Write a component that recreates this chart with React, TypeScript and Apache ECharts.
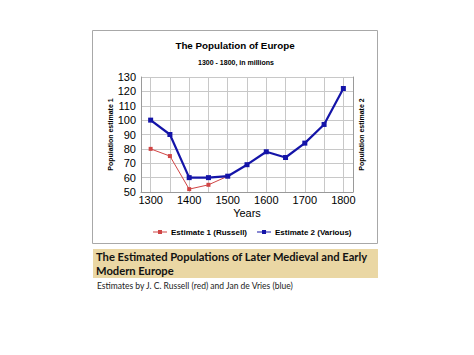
import React, { useEffect, useRef } from "react";
import * as echarts from "echarts";

// Axis slots (quarter-century steps so that gridlines fall on the data years)
const axisSlots = [
  "1275", "1300", "1325", "1350", "1375", "1400", "1425", "1450", "1475", "1500", "1525",
  "1550", "1575", "1600", "1625", "1650", "1675", "1700", "1725", "1750", "1775", "1800", "1825",
];
const gridYears = ["1275", "1300", "1350", "1400", "1450", "1500", "1550", "1600", "1650", "1700", "1750", "1800", "1825"];
const labelYears = ["1300", "1400", "1500", "1600", "1700", "1800"];

const russellYears = ["1300", "1350", "1400", "1450", "1500"];
const russellValues = [80, 75, 52, 55, 61];

const deVriesYears = ["1300", "1350", "1400", "1450", "1500", "1550", "1600", "1650", "1700", "1750", "1800"];
const deVriesValues = [100, 90, 60, 60, 61, 69, 78, 74, 84, 97, 122];

const yTicks = { min: 50, max: 130, interval: 10 };

const legendIcon = "path://M0,1.5H14V2.5H0Z M5,0H9V4H5Z";

export default function App() {
  const ref = useRef<HTMLDivElement>(null);
  useEffect(() => {
    if (!ref.current) return;
    const chart = echarts.init(ref.current, null, { renderer: "svg" });
    const font = "Arial, 'Liberation Sans', sans-serif";
    const bannerFont = "Lato, 'Open Sans', sans-serif";
    chart.setOption({
      animation: false,
      backgroundColor: "#ffffff",
      textStyle: { fontFamily: font },
      graphic: [
        {
          type: "rect",
          z: -10,
          shape: { x: 92.5, y: 30.5, width: 285, height: 213 },
          style: { fill: "#ffffff", stroke: "#a8a8a8", lineWidth: 1 },
        },
        {
          type: "text",
          x: 235,
          y: 45,
          style: {
            text: "The Population of Europe",
            font: `bold 9.8px ${font}`,
            fill: "#000",
            textAlign: "center",
            textVerticalAlign: "middle",
          },
        },
        {
          type: "text",
          x: 236,
          y: 62,
          style: {
            text: "1300 - 1800, in millions",
            font: `bold 7px ${font}`,
            fill: "#000",
            textAlign: "center",
            textVerticalAlign: "middle",
          },
        },
        {
          type: "rect",
          shape: { x: 93, y: 249, width: 285, height: 29 },
          style: { fill: "#ead7a4" },
        },
        {
          type: "text",
          x: 96,
          y: 256,
          style: {
            text: "The Estimated Populations of Later Medieval and Early",
            font: `bold 11.2px ${bannerFont}`,
            fill: "#111",
            textVerticalAlign: "middle",
          },
        },
        {
          type: "text",
          x: 96,
          y: 270,
          style: {
            text: "Modern Europe",
            font: `bold 11.2px ${bannerFont}`,
            fill: "#111",
            textVerticalAlign: "middle",
          },
        },
        {
          type: "text",
          x: 97,
          y: 286,
          style: {
            text: "Estimates by J. C. Russell (red) and Jan de Vries (blue)",
            font: `8.5px ${bannerFont}`,
            fill: "#222",
            textVerticalAlign: "middle",
          },
        },
      ],
      grid: { left: 141, top: 77, width: 212, height: 115, show: false },
      legend: {
        left: 153,
        top: 228,
        padding: 0,
        itemWidth: 14,
        itemHeight: 4,
        itemGap: 10,
        textStyle: { fontSize: 8, fontWeight: "bold", color: "#000", fontFamily: font, padding: [0, 0, 0, -1] },
        data: [
          { name: "Estimate 1 (Russell)", icon: legendIcon },
          { name: "Estimate 2 (Various)", icon: legendIcon },
        ],
      },
      xAxis: {
        type: "category",
        data: axisSlots,
        boundaryGap: false,
        name: "Years",
        nameLocation: "middle",
        nameGap: 15,
        nameTextStyle: { fontSize: 11, color: "#000", fontFamily: font },
        axisLine: { show: true, lineStyle: { color: "#9a9a9a", width: 1 } },
        axisTick: { show: false },
        axisLabel: {
          interval: (_i: number, v: string) => labelYears.includes(v),
          fontSize: 11,
          color: "#000",
          margin: 2,
          fontFamily: font,
        },
        splitLine: {
          show: true,
          interval: (_i: number, v: string) => gridYears.includes(v),
          lineStyle: { color: "#c8c8c8", width: 1 },
        },
      },
      yAxis: [
        {
          type: "value",
          min: yTicks.min,
          max: yTicks.max,
          interval: yTicks.interval,
          name: "Population estimate 1",
          nameLocation: "middle",
          nameRotate: 90,
          nameGap: 27,
          nameTextStyle: { fontSize: 7, fontWeight: "bold", color: "#000", fontFamily: font },
          axisLine: { show: true, lineStyle: { color: "#9a9a9a" } },
          axisTick: { show: false },
          axisLabel: { fontSize: 11, color: "#000", margin: 5, fontFamily: font },
          splitLine: { show: true, lineStyle: { color: "#c8c8c8" } },
        },
        {
          type: "value",
          position: "right",
          min: yTicks.min,
          max: yTicks.max,
          interval: yTicks.interval,
          name: "Population estimate 2",
          nameLocation: "middle",
          nameRotate: 90,
          nameGap: 5,
          nameTextStyle: { fontSize: 7, fontWeight: "bold", color: "#000", fontFamily: font },
          axisLine: { show: true, lineStyle: { color: "#9a9a9a" } },
          axisTick: { show: false },
          axisLabel: { show: false },
          splitLine: { show: false },
        },
      ],
      series: [
        {
          name: "Estimate 1 (Russell)",
          type: "line",
          data: russellYears.map((y, i) => [y, russellValues[i]]),
          symbol: "rect",
          symbolSize: 4,
          itemStyle: { color: "#d04545" },
          lineStyle: { color: "#d04545", width: 1 },
          z: 2,
        },
        {
          name: "Estimate 2 (Various)",
          type: "line",
          data: deVriesYears.map((y, i) => [y, deVriesValues[i]]),
          symbol: "rect",
          symbolSize: 5,
          itemStyle: { color: "#1414a8" },
          lineStyle: { color: "#1414a8", width: 2.2 },
          z: 3,
        },
      ],
    });
    return () => chart.dispose();
  }, []);
  return (
    <div
      ref={ref}
      style={{ position: "absolute", left: 0, top: 0, width: 474, height: 355 }}
    />
  );
}
